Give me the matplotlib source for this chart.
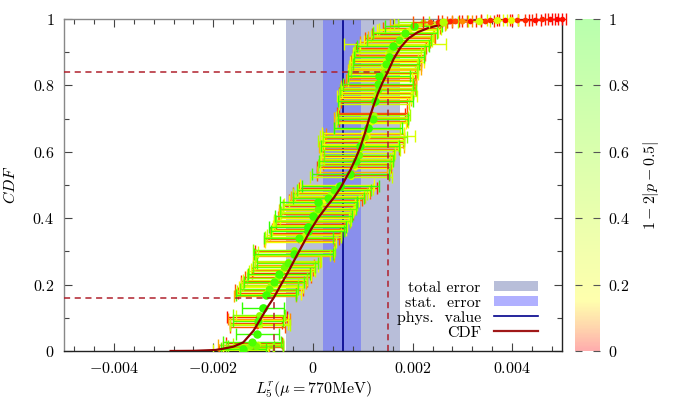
import numpy as np
import matplotlib
matplotlib.use("Agg")
import matplotlib.pyplot as plt
from matplotlib.colors import LinearSegmentedColormap, Normalize
from matplotlib.patches import Patch
from matplotlib.lines import Line2D
from matplotlib.ticker import FixedLocator, FuncFormatter, MultipleLocator
import matplotlib.cm as cm

plt.rcParams['mathtext.fontset'] = 'cm'
plt.rcParams['font.family'] = ['cmr10', 'DejaVu Serif']
plt.rcParams['axes.formatter.use_mathtext'] = True

# ---------------- data (x values in units of 1e-3) ----------------
pt_y = [0.002, 0.004, 0.006, 0.008, 0.010, 0.012, 0.014, 0.016, 0.019, 0.022, 0.025, 0.028,
        0.051,
        0.073, 0.077, 0.081, 0.085, 0.089, 0.093, 0.097, 0.101, 0.104, 0.107,
        0.131,
        0.165, 0.169, 0.172, 0.176, 0.180, 0.184, 0.188, 0.192, 0.196, 0.200, 0.204, 0.208, 0.211, 0.215,
        0.220, 0.224, 0.228, 0.232, 0.236, 0.240, 0.244, 0.248, 0.252, 0.256, 0.260, 0.264, 0.268, 0.272,
        0.286, 0.290, 0.293, 0.297, 0.301, 0.305,
        0.328, 0.332, 0.336, 0.340, 0.344, 0.348, 0.352, 0.356, 0.360,
        0.364, 0.368, 0.372, 0.376, 0.380, 0.384, 0.388, 0.392, 0.396, 0.400, 0.404, 0.408, 0.412,
        0.416, 0.420, 0.424, 0.428, 0.432, 0.436, 0.440, 0.444, 0.448,
        0.452, 0.456, 0.460, 0.464, 0.468, 0.472, 0.476, 0.480, 0.484, 0.488, 0.492, 0.496, 0.500,
        0.525, 0.529, 0.533, 0.539,
        0.551, 0.555, 0.559, 0.563, 0.567, 0.571, 0.575, 0.579, 0.583, 0.587, 0.591, 0.595,
        0.605, 0.609, 0.613, 0.617, 0.621, 0.625, 0.629, 0.633, 0.637, 0.641, 0.645, 0.649, 0.653, 0.658,
        0.668, 0.672,
        0.686, 0.690, 0.694, 0.698, 0.702, 0.706, 0.710, 0.714, 0.718,
        0.745, 0.749, 0.753, 0.757, 0.761, 0.765, 0.769, 0.773, 0.777, 0.781, 0.785, 0.789, 0.793,
        0.797, 0.801, 0.805,
        0.813, 0.817, 0.821, 0.825, 0.829, 0.833, 0.837, 0.841, 0.845, 0.849, 0.853, 0.857, 0.861,
        0.865, 0.869, 0.873, 0.877, 0.881, 0.885, 0.889, 0.893, 0.897, 0.901,
        0.906, 0.910, 0.914, 0.918, 0.922, 0.926, 0.930,
        0.934, 0.938, 0.942, 0.946, 0.950, 0.954, 0.958, 0.962, 0.966, 0.970, 0.974, 0.978, 0.982,
        0.986, 0.990,
        0.991, 0.992, 0.992, 0.993, 0.993, 0.994, 0.994, 0.995, 0.995, 0.996, 0.996, 0.997, 0.997,
        0.998, 0.998, 0.998, 0.999, 0.999, 1.000, 1.000]
pt_x = [-1.45, -1.38, -1.40, -1.32, -1.30, -1.20, -1.26, -1.15, -1.25, -1.10, -1.18, -1.22,
        -1.12,
        -1.12, -1.06, -1.08, -1.14, -1.10, -1.05, -1.09, -1.13, -1.07, -1.09,
        -1.01,
        -0.97, -0.95, -0.90, -0.93, -0.92, -0.88, -0.89, -0.84, -0.83, -0.86, -0.80, -0.79, -0.78, -0.76,
        -0.72, -0.70, -0.68, -0.69, -0.64, -0.62, -0.60, -0.61, -0.58, -0.55, -0.57, -0.51, -0.53, -0.50,
        -0.36, -0.40, -0.39, -0.34, -0.37, -0.38,
        -0.25, -0.28, -0.22, -0.29, -0.20, -0.18, -0.15, -0.16, -0.11,
        -0.08, -0.10, -0.11, -0.06, -0.05, -0.04, -0.02, 0.00, -0.01, 0.03, 0.02, 0.01, 0.06,
        0.05, 0.08, 0.07, 0.10, 0.12, 0.11, 0.14, 0.13, 0.11,
        0.22, 0.25, 0.31, 0.30, 0.33, 0.34, 0.37, 0.40, 0.42, 0.45, 0.50, 0.55, 0.48,
        0.76, 0.80, 0.75, 0.78,
        0.85, 0.83, 0.82, 0.88, 0.87, 0.86, 0.90, 0.89, 0.88, 0.91, 0.92, 0.90,
        0.95, 0.97, 0.98, 0.94, 0.96, 1.00, 1.02, 0.97, 1.03, 1.02, 1.05, 1.10, 1.04, 1.00,
        1.08, 1.10,
        1.17, 1.18, 1.21, 1.20, 1.16, 1.19, 1.22, 1.18, 1.19,
        1.22, 1.23, 1.25, 1.24, 1.24, 1.27, 1.28, 1.26, 1.26, 1.29, 1.30, 1.31, 1.28,
        1.32, 1.33, 1.30,
        1.35, 1.36, 1.38, 1.34, 1.32, 1.40, 1.39, 1.42, 1.41, 1.44, 1.43, 1.40, 1.46,
        1.46, 1.48, 1.47, 1.45, 1.50, 1.52, 1.49, 1.52, 1.48, 1.53,
        1.55, 1.58, 1.57, 1.60, 1.62, 1.65, 1.64,
        1.70, 1.72, 1.74, 1.76, 1.78, 1.80, 1.84, 1.86, 1.88, 1.95, 1.98, 2.02, 2.10,
        2.15, 2.20,
        2.35, 2.50, 2.62, 2.75, 2.85, 3.00, 3.15, 3.33, 3.45, 3.55, 3.70, 3.85, 3.97,
        4.10, 4.25, 4.45, 4.60, 4.75, 4.90, 5.00]
pt_err = [0.55, 0.50, 0.45, 0.52, 0.50, 0.60, 0.48, 0.55, 0.65, 0.50, 0.56, 0.58,
          0.43,
          0.55, 0.60, 0.58, 0.52, 0.50, 0.55, 0.62, 0.60, 0.48, 0.52,
          0.42,
          0.62, 0.60, 0.65, 0.58, 0.60, 0.68, 0.58, 0.64, 0.62, 0.55, 0.65, 0.60, 0.66, 0.64,
          0.60, 0.66, 0.64, 0.62, 0.58, 0.66, 0.60, 0.64, 0.63, 0.65, 0.60, 0.62, 0.68, 0.66,
          0.78, 0.74, 0.80, 0.76, 0.80, 0.82,
          0.72, 0.70, 0.75, 0.70, 0.76, 0.74, 0.72, 0.70, 0.73,
          0.75, 0.72, 0.78, 0.74, 0.72, 0.70, 0.76, 0.74, 0.78, 0.70, 0.72, 0.77, 0.74,
          0.70, 0.72, 0.75, 0.76, 0.73, 0.71, 0.75, 0.72, 0.78,
          0.70, 0.74, 0.72, 0.75, 0.70, 0.74, 0.77, 0.72, 0.74, 0.76, 0.78, 0.78, 0.74,
          0.82, 0.72, 0.78, 0.70,
          0.70, 0.74, 0.72, 0.68, 0.72, 0.74, 0.70, 0.66, 0.72, 0.70, 0.70, 0.74,
          0.80, 0.76, 0.85, 0.78, 0.74, 0.82, 0.78, 0.86, 0.80, 0.80, 0.84, 0.95, 0.78, 0.82,
          0.66, 0.68,
          0.70, 0.72, 0.68, 0.70, 0.74, 0.72, 0.72, 0.66, 0.70,
          0.70, 0.66, 0.75, 0.72, 0.72, 0.70, 0.80, 0.74, 0.74, 0.70, 0.76, 0.74, 0.72,
          0.75, 0.70, 0.70,
          0.65, 0.70, 0.68, 0.64, 0.62, 0.70, 0.66, 0.66, 0.70, 0.72, 0.68, 0.68, 0.70,
          0.66, 0.74, 0.70, 0.66, 0.72, 0.70, 0.68, 0.72, 0.68, 0.70,
          0.70, 0.66, 0.70, 0.72, 0.68, 1.02, 0.70,
          0.68, 0.64, 0.70, 0.66, 0.62, 0.62, 0.64, 0.66, 0.60, 0.62, 0.58, 0.58, 0.55,
          0.52, 0.50,
          0.35, 0.30, 0.30, 0.25, 0.25, 0.20, 0.22, 0.22, 0.18, 0.18, 0.20, 0.15, 0.15,
          0.15, 0.14, 0.12, 0.12, 0.10, 0.10, 0.08]
pt_w = [0.30, 0.05, 0.90, 0.45, 0.20, 0.05, 0.60, 0.70, 0.10, 0.40, 0.02, 0.85,
        0.90,
        0.05, 0.40, 0.30, 0.02, 0.85, 0.15, 0.08, 0.00, 0.25, 0.60,
        0.95,
        0.10, 0.90, 0.20, 0.02, 0.40, 0.05, 0.75, 0.15, 0.30, 0.45, 0.10, 0.85, 0.03, 0.25,
        0.55, 0.05, 0.15, 0.90, 0.02, 0.35, 0.05, 0.25, 0.70, 0.20, 0.08, 0.80, 0.12, 0.40,
        0.10, 0.40, 0.90, 0.30, 0.03, 0.60,
        0.20, 0.08, 0.05, 0.85, 0.40, 0.35, 0.10, 0.02, 0.90,
        0.25, 0.05, 0.95, 0.15, 0.40, 0.02, 0.10, 0.60, 0.30, 0.20, 0.08, 0.90, 0.05,
        0.45, 0.30, 0.12, 0.75, 0.15, 0.03, 0.50, 0.25, 0.90,
        0.20, 0.05, 0.85, 0.10, 0.30, 0.45, 0.05, 0.15, 0.80, 0.30, 0.02, 0.95, 0.15,
        0.35, 0.05, 0.90, 0.10,
        0.20, 0.03, 0.60, 0.05, 0.30, 0.85, 0.10, 0.40, 0.15, 0.02, 0.70, 0.25,
        0.35, 0.05, 0.10, 0.90, 0.20, 0.25, 0.02, 0.45, 0.15, 0.05, 0.60, 0.30, 0.08, 0.20,
        0.40, 0.95,
        0.15, 0.30, 0.05, 0.85, 0.10, 0.40, 0.50, 0.02, 0.05,
        0.35, 0.05, 0.90, 0.10, 0.15, 0.02, 0.25, 0.45, 0.05, 0.20, 0.70, 0.08, 0.40,
        0.10, 0.03, 0.85,
        0.30, 0.08, 0.05, 0.20, 0.90, 0.20, 0.02, 0.60, 0.12, 0.10, 0.30, 0.40, 0.05,
        0.85, 0.15, 0.02, 0.35, 0.25, 0.90, 0.10, 0.05, 0.25, 0.45,
        0.55, 0.10, 0.03, 0.90, 0.20, 0.30, 0.08,
        0.20, 0.75, 0.05, 0.10, 0.40, 0.03, 0.85, 0.30, 0.15, 0.30, 0.05, 0.90, 0.10,
        0.35, 0.50,
        0.05, 0.02, 0.45, 0.02, 0.04, 0.08, 0.01, 0.35, 0.03, 0.02, 0.30, 0.01, 0.25,
        0.03, 0.02, 0.01, 0.02, 0.01, 0.00, 0.01]

# CDF curve knots (x in 1e-3)
cdf_x = [-2.86, -2.40, -1.96, -1.80, -1.60, -1.40, -1.20, -1.05, -0.91, -0.79, -0.65, -0.51,
         -0.31, -0.18, -0.05, 0.10, 0.29, 0.42, 0.55, 0.75, 0.85, 0.95, 1.04, 1.12, 1.21,
         1.30, 1.40, 1.50, 1.62, 1.76, 1.92, 2.10, 2.30, 2.56, 2.80, 3.11, 3.40, 3.77, 5.0]
cdf_y = [0.0, 0.0005, 0.003, 0.007, 0.013, 0.026, 0.060, 0.097, 0.133, 0.160, 0.198, 0.235,
         0.292, 0.328, 0.364, 0.400, 0.438, 0.462, 0.491, 0.545, 0.577, 0.614, 0.655, 0.696,
         0.737, 0.775, 0.810, 0.840, 0.880, 0.915, 0.942, 0.960, 0.972, 0.983, 0.989,
         0.994, 0.997, 0.999, 1.0]

phys_value = 0.60        # 1e-3
stat_err = [0.21, 0.97]
total_err = [-0.55, 1.74]
quantiles_x = [-0.79, 1.50]
quantiles_y = [0.16, 0.84]

xticks = [-0.004, -0.002, 0.0, 0.002, 0.004]
yticks = [0, 0.2, 0.4, 0.6, 0.8, 1]
cbticks = [0, 0.2, 0.4, 0.6, 0.8, 1]

S = 1e-3
# ---------------- figure ----------------
fig = plt.figure(figsize=(6.75, 4.05), dpi=100)
ax = fig.add_axes([64/675, 54/405, 498/675, 332/405])
cax = fig.add_axes([575/675, 54/405, 25/675, 332/405])

cmap = LinearSegmentedColormap.from_list(
    'pq', [(0.0, (1, 0, 0)), (0.07, (1, 0.5, 0)), (0.15, (1, 1, 0)), (1.0, (0.15, 1, 0.0))])
norm = Normalize(0, 1)

ax.axvspan(total_err[0]*S, total_err[1]*S, color=(0.72, 0.745, 0.85), lw=0, zorder=1)
ax.axvspan(stat_err[0]*S, stat_err[1]*S, color=(0.36, 0.38, 1.0), alpha=0.5, lw=0, zorder=1.1)
ax.axvline(phys_value*S, color='#00008b', lw=1.2, zorder=2)

order = np.argsort(pt_w, kind='stable')
for i in order:
    c = cmap(norm(pt_w[i]))
    top = pt_y[i] > 0.99
    ax.errorbar(pt_x[i]*S, pt_y[i], xerr=pt_err[i]*S, fmt='o', color=c,
                ms=(4.0 if top else 2.5) + 4.0*pt_w[i], mec='none', elinewidth=1.0,
                capsize=4.0, capthick=1.0, zorder=6 if top else 3, clip_on=not top)

ax.plot(np.array(cdf_x)*S, cdf_y, color='#8b0000', lw=1.6, zorder=5)

dash_col = '#b0202c'
for qx, qy in zip(quantiles_x, quantiles_y):
    ax.plot([-0.005, qx*S], [qy, qy], ls=(0, (4, 3)), color=dash_col, lw=1.1, zorder=4)
    ax.plot([qx*S, qx*S], [0, qy], ls=(0, (4, 3)), color=dash_col, lw=1.1, zorder=4)

ax.set_xlim(-0.005, 0.005)
ax.set_ylim(0, 1)
ax.xaxis.set_major_locator(FixedLocator(xticks))
ax.xaxis.set_minor_locator(MultipleLocator(0.0004))
ax.yaxis.set_major_locator(FixedLocator(yticks))
ax.yaxis.set_minor_locator(MultipleLocator(0.1))
ax.xaxis.set_major_formatter(FuncFormatter(lambda v, p: '$0$' if abs(v) < 1e-12 else '$%g$' % v))
ax.yaxis.set_major_formatter(FuncFormatter(lambda v, p: '$%g$' % v))
ax.tick_params(which='both', direction='in', top=True, right=True, labelsize=11.5, color='#444444')
ax.tick_params(which='major', length=6, width=0.8, pad=7)
ax.tick_params(which='minor', length=3.5, width=0.8)
for s in ['left', 'top']:
    ax.spines[s].set_color('#888888')
for s in ['bottom', 'right']:
    ax.spines[s].set_color('#222222')
for s in ax.spines.values():
    s.set_linewidth(1.0)

ax.set_xlabel(r'$L_5^r(\mu=770\mathrm{MeV})$', fontsize=11.5, labelpad=3)
ax.set_ylabel(r'$CDF$', fontsize=11.5, labelpad=10)

handles = [Patch(facecolor=(0.72, 0.745, 0.85), edgecolor='none'),
           Patch(facecolor=(0.69, 0.69, 1.0), edgecolor='none'),
           Line2D([], [], color='#00008b', lw=1.2),
           Line2D([], [], color='#a01818', lw=1.6)]
labels = ['total error', 'stat.  error', 'phys.  value', 'CDF']
leg = ax.legend(handles, labels, loc='lower right', bbox_to_anchor=(0.975, 0.0),
                frameon=False, markerfirst=False, fontsize=11.5, handlelength=2.8,
                handleheight=0.6, labelspacing=0.08, handletextpad=0.8, borderaxespad=0.3)
leg.set_zorder(10)

sm = cm.ScalarMappable(norm=norm, cmap=cmap)
cb = fig.colorbar(sm, cax=cax, alpha=0.32)
cb.outline.set_visible(False)
cb.solids.set_alpha(0.32)
cb.set_ticks(cbticks)
cb.ax.yaxis.set_major_formatter(FuncFormatter(lambda v, p: '$%g$' % v))
cax.tick_params(direction='in', left=True, right=True, length=5, width=0.8,
                color='#555555', labelsize=11.5, pad=6)
cb.set_label(r'$1-2|p-0.5|$', fontsize=11.5, labelpad=8)

fig.savefig('out.png', dpi=100)
